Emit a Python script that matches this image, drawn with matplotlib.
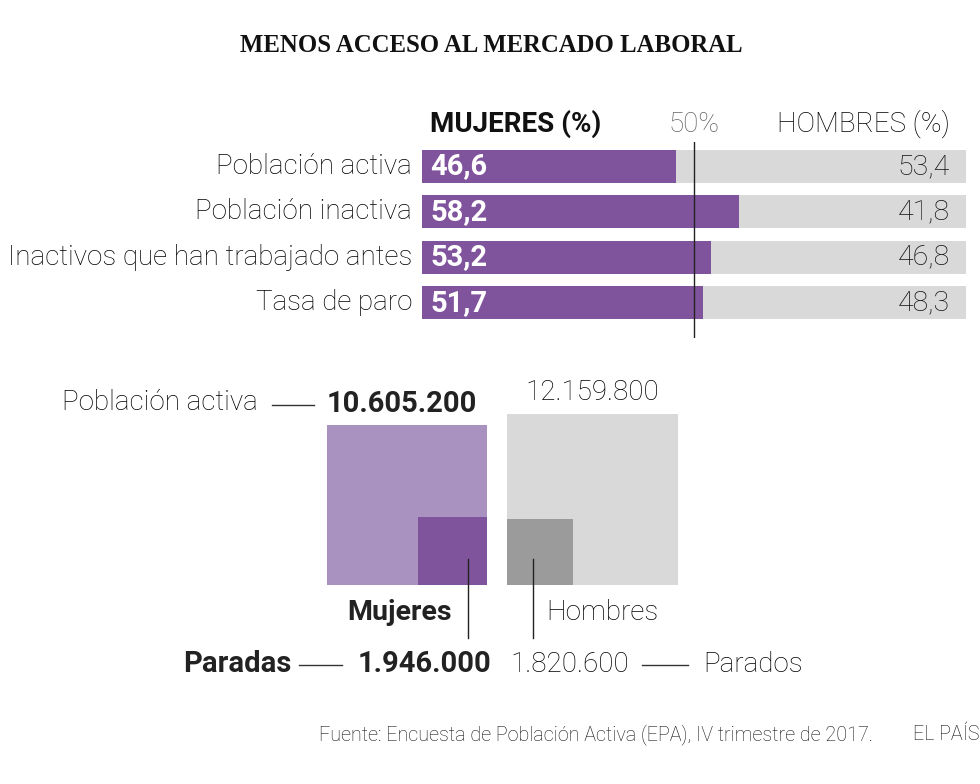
import matplotlib
matplotlib.use("Agg")
import matplotlib.pyplot as plt
from matplotlib.patches import Rectangle
import numpy as np

# Data
categories = ["Población activa", "Población inactiva", "Inactivos que han trabajado antes", "Tasa de paro"]
mujeres = [46.6, 58.2, 53.2, 51.7]
hombres = [53.4, 41.8, 46.8, 48.3]

activa_m = 10605200   # mujeres
activa_h = 12159800   # hombres
parados_m = 1946000
parados_h = 1820600

PURPLE = "#7f549c"
LIGHT_PURPLE = "#aa92c0"
GREY = "#d9d9d9"
DARK_GREY = "#9b9b9b"
TXT = "#000000"
FS = 20      # regular text size
FSB = 21     # bold text size

plt.rcParams["font.family"] = ["Roboto", "DejaVu Sans"]

W, H = 980, 784
fig = plt.figure(figsize=(W / 100, H / 100), dpi=100)
fig.patch.set_facecolor("white")


def px(x, y):
    # pixel position -> figure fraction
    return x / W, 1 - y / H


def ftext(x, y, s, **kw):
    fx, fy = px(x, y)
    kw.setdefault("va", "center")
    kw.setdefault("color", TXT)
    kw.setdefault("fontweight", "light")
    fig.text(fx, fy, s, **kw)


def fline(x0, x1, y0, y1, **kw):
    a, b = px(x0, y0)
    c, d = px(x1, y1)
    fig.add_artist(plt.Line2D([a, c], [b, d], transform=fig.transFigure, **kw))


# Title
ftext(491, 46, "MENOS ACCESO AL MERCADO LABORAL", ha="center", fontsize=17.8,
      fontweight="bold", family="Liberation Serif", color="#111111")

# ---- Bar chart ----
bx0, bx1, by0, by1 = 422, 966, 142, 338
l, b = px(bx0, by1)
ax = fig.add_axes([l, b, (bx1 - bx0) / W, (by1 - by0) / H])
ypos = np.arange(len(categories))
ax.barh(ypos, [100] * len(categories), height=0.73, color=GREY)
ax.barh(ypos, mujeres, height=0.73, color=PURPLE)
ax.axvline(50, color="#222222", lw=1)
ax.set_xlim(0, 100)
ax.set_ylim(3.78, -0.54)
ax.axis("off")

for i, cat in enumerate(categories):
    ax.text(-1.8, i, cat, ha="right", va="center", fontsize=FS, color=TXT, fontweight="light")
    ax.text(1.5, i, f"{mujeres[i]:.1f}".replace(".", ","), ha="left", va="center",
            fontsize=FSB, fontweight="bold", color="white")
    ax.text(97, i, f"{hombres[i]:.1f}".replace(".", ","), ha="right", va="center",
            fontsize=FS + 0.5, color="#111111", fontweight="light")

ftext(430, 124, "MUJERES (%)", ha="left", fontsize=20, fontweight="bold", color="#111111")
ftext(694, 124, "50%", ha="center", fontsize=FS, color="#666666")
ftext(950, 124, "HOMBRES (%)", ha="right", fontsize=FS, color=TXT)

# ---- Squares (area proportional) ----
s_w = np.sqrt(activa_m / 1000)
s_h = np.sqrt(activa_h / 1000)
p_w = np.sqrt(parados_m / 1000)
p_h = np.sqrt(parados_h / 1000)
sx0, sx1, sy0, sy1 = 327, 678, 414, 585
l, b = px(sx0, sy1)
ax2 = fig.add_axes([l, b, (sx1 - sx0) / W, (sy1 - sy0) / H])
px_per_unit = (sy1 - sy0) / s_h
gap = (sx1 - sx0) / px_per_unit - s_w - s_h
ax2.add_patch(Rectangle((0, 0), s_w, s_w, color=LIGHT_PURPLE, lw=0))
ax2.add_patch(Rectangle((s_w - p_w, 0), p_w, p_w, color=PURPLE, lw=0))
hx = s_w + gap
ax2.add_patch(Rectangle((hx, 0), s_h, s_h, color=GREY, lw=0))
ax2.add_patch(Rectangle((hx, 0), p_h, p_h, color=DARK_GREY, lw=0))
ax2.set_xlim(0, s_w + gap + s_h)
ax2.set_ylim(0, s_h)
ax2.axis("off")

# pointer lines from parados squares
lw_x = s_w - p_w * 0.28
lh_x = hx + p_h * 0.39
drop = (638 - sy1) / px_per_unit
for x in (lw_x, lh_x):
    ax2.plot([x, x], [p_w * 0.38, -drop], color="#222222", lw=1, clip_on=False)

# labels around squares
ftext(62, 403, "Población activa", ha="left", fontsize=FS)
fline(272, 314, 405, 405, color="#333333", lw=1)
ftext(327, 404, f"{activa_m:,}".replace(",", "."), ha="left", fontsize=FSB, fontweight="bold",
      color="#222222")
ftext(592, 392, f"{activa_h:,}".replace(",", "."), ha="center", fontsize=FS)
ftext(452, 612, "Mujeres", ha="right", fontsize=FSB - 0.5, fontweight="bold", color="#222222")
ftext(546, 612, "Hombres", ha="left", fontsize=FS)

ftext(183, 664, "Paradas", ha="left", fontsize=FSB, fontweight="bold", color="#222222")
fline(299, 342, 665, 665, color="#333333", lw=1)
ftext(358, 664, f"{parados_m:,}".replace(",", "."), ha="left", fontsize=FSB, fontweight="bold",
      color="#222222")
ftext(510, 664, f"{parados_h:,}".replace(",", "."), ha="left", fontsize=FS)
fline(642, 688, 665, 665, color="#333333", lw=1)
ftext(703, 664, "Parados", ha="left", fontsize=FS)

# Footer
ftext(319, 735, "Fuente: Encuesta de Población Activa (EPA), IV trimestre de 2017.",
      ha="left", fontsize=14.2, color="#111111")
ftext(913, 735, "EL PAÍS", ha="left", fontsize=14.2, color="#111111")

fig.savefig("out.png", dpi=100, facecolor="white")
